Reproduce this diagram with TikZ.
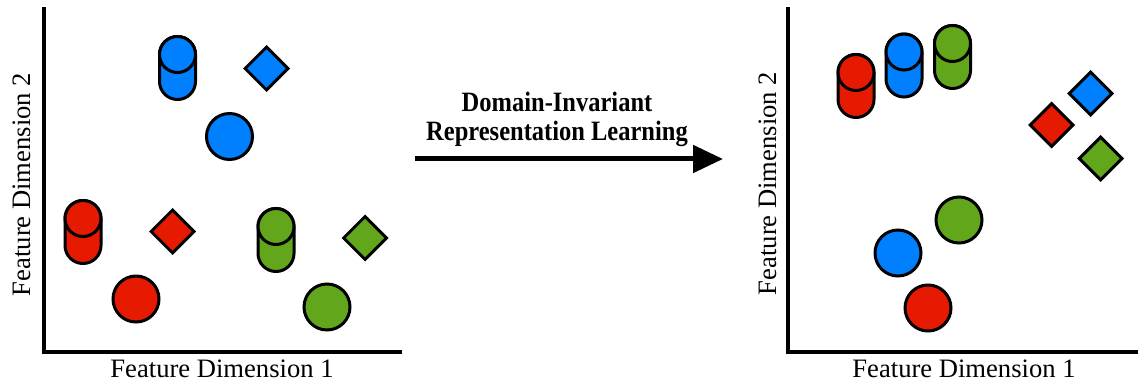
\documentclass[tikz,border=0pt]{standalone}
\usepackage{fontspec}
\setmainfont{Liberation Serif}
\usetikzlibrary{shapes.geometric,arrows.meta}
\definecolor{cred}{RGB}{230,26,0}
\definecolor{cblue}{RGB}{0,128,255}
\definecolor{cgreen}{RGB}{98,166,28}
\newcommand\mycylinder[4]{%
  \node[cyl,fill=#4] (#1) at (#2,#3+33) {};
  \node[cyltop,fill=#4] (#1t) at (#2,#3+19.5) {};
}
\begin{document}
\begin{tikzpicture}[x=1pt,y=-1pt,
  outl/.style={draw=black,line width=3pt},
  cyl/.style={outl,rectangle,rounded corners=18pt,minimum width=36pt,minimum height=63pt,inner sep=0pt},
  cyltop/.style={outl,circle,minimum size=36pt,inner sep=0pt},
  dia/.style={outl,diamond,minimum width=44pt,minimum height=44pt,inner sep=0pt},
  blob/.style={outl,circle,minimum size=46pt,inner sep=0pt},
  axisline/.style={line width=4pt,line join=miter},
  lab/.style={font=\fontsize{26.6}{30}\selectfont,inner sep=0pt,anchor=base},
  ttl/.style={font=\fontsize{28}{30}\selectfont\bfseries,inner sep=0pt,anchor=base}]
\useasboundingbox (0,0) rectangle (1138,382);
% axes
\coordinate (lT) at (44,7); \coordinate (lO) at (44,352); \coordinate (lR) at (402,352);
\coordinate (rT) at (788,7); \coordinate (rO) at (788,352); \coordinate (rR) at (1140,352);
\draw[axisline] (lT) -- (lO) -- (lR);
\draw[axisline] (rT) -- (rO) -- (rR);
\node[lab] (lx) at (222,377) {Feature Dimension 1};
\node[lab] (rx) at (964,377) {Feature Dimension 1};
\node[lab,rotate=90] (ly) at (30,184.5) {Feature Dimension 2};
\node[lab,rotate=90] (ry) at (776,183.5) {Feature Dimension 2};
% left panel
\mycylinder{lcb}{177.5}{35}{cblue}
\node[dia,fill=cblue] (ldb) at (266.5,68.5) {};
\node[blob,fill=cblue] (lbb) at (229.5,136.5) {};
\mycylinder{lcr}{83}{199}{cred}
\node[dia,fill=cred] (ldr) at (172.5,231.5) {};
\node[blob,fill=cred] (lbr) at (136,299) {};
\mycylinder{lcg}{276}{207}{cgreen}
\node[dia,fill=cgreen] (ldg) at (365,238) {};
\node[blob,fill=cgreen] (lbg) at (327,307) {};
% right panel
\mycylinder{rcr}{856}{53}{cred}
\mycylinder{rcb}{904}{32.5}{cblue}
\mycylinder{rcg}{952.5}{24}{cgreen}
\node[dia,fill=cblue] (rdb) at (1090.5,93.5) {};
\node[dia,fill=cred] (rdr) at (1051.5,125) {};
\node[dia,fill=cgreen] (rdg) at (1100.5,158.5) {};
\node[blob,fill=cblue] (rbb) at (898,253) {};
\node[blob,fill=cgreen] (rbg) at (959,220) {};
\node[blob,fill=cred] (rbr) at (928,308) {};
% arrow
\node[ttl] (t1) at (557,112) {\scalebox{0.875}[1]{Domain-Invariant}};
\node[ttl] (t2) at (557,141) {\scalebox{0.875}[1]{Representation Learning}};
\coordinate (arS) at (415,159);
\coordinate (arE) at (723,159);
\draw[line width=5pt,-{Triangle[length=30pt,width=27pt]}] (arS) -- (arE);
\end{tikzpicture}
\end{document}
